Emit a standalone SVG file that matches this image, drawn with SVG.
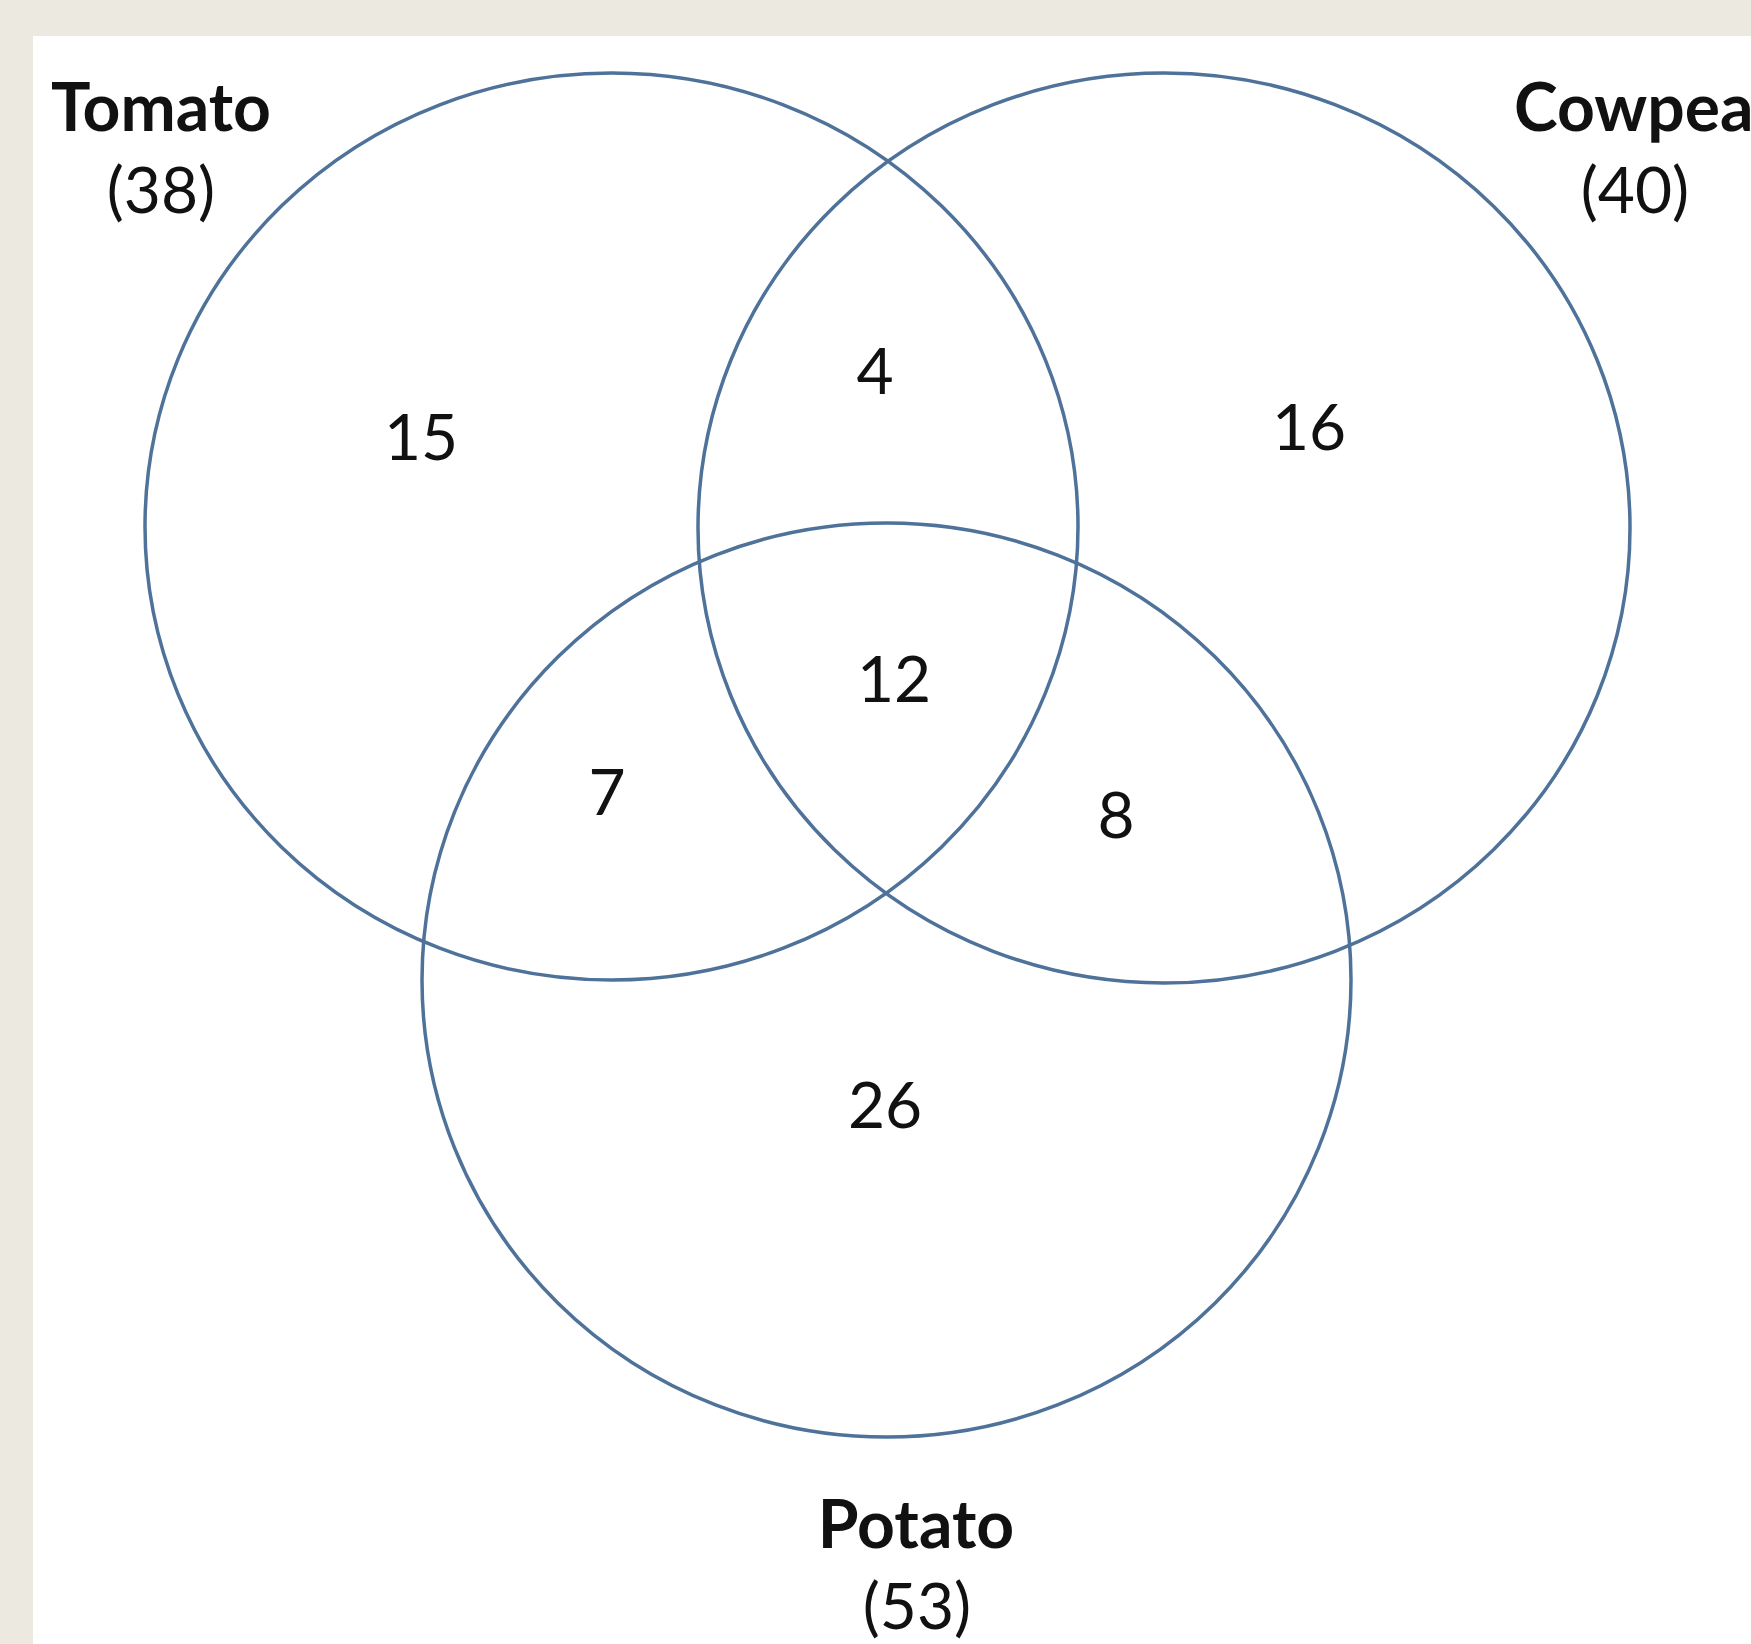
<svg xmlns="http://www.w3.org/2000/svg" width="1751" height="1644" viewBox="0 0 1751 1644">
  <style>
    .set { fill: none; stroke: #4E7299; stroke-width: 3.5; }
    .title { font-family: Lato, "Open Sans", sans-serif; font-weight: bold; font-size: 66px; fill: #111; }
    .count { font-family: Lato, "Open Sans", sans-serif; font-size: 64px; fill: #111; }
    .num { font-family: Lato, "Open Sans", sans-serif; font-size: 64px; fill: #111; text-anchor: middle; }
  </style>
  <rect x="0" y="0" width="1751" height="1644" fill="#ECEAE0"/>
  <rect x="33" y="36" width="1718" height="1608" fill="#FFFFFF"/>
  <g id="tomato">
    <ellipse class="set" cx="611.5" cy="526.5" rx="466.5" ry="453.5"/>
    <text class="title" x="161" y="131" text-anchor="middle">Tomato</text>
    <text class="count" x="161" y="213" text-anchor="middle">(38)</text>
  </g>
  <g id="cowpea">
    <ellipse class="set" cx="1164" cy="528" rx="466" ry="455"/>
    <text class="title" x="1514" y="131">Cowpea</text>
    <text class="count" x="1635" y="213" text-anchor="middle">(40)</text>
  </g>
  <g id="potato">
    <ellipse class="set" cx="886.5" cy="980" rx="464.5" ry="457"/>
    <text class="title" x="916" y="1548" text-anchor="middle">Potato</text>
    <text class="count" x="917" y="1629" text-anchor="middle">(53)</text>
  </g>
  <g id="regions">
    <text class="num" x="421" y="460">15</text>
    <text class="num" x="875" y="394">4</text>
    <text class="num" x="1309" y="450">16</text>
    <text class="num" x="894" y="702">12</text>
    <text class="num" x="607" y="815">7</text>
    <text class="num" x="1116" y="838">8</text>
    <text class="num" x="885" y="1128">26</text>
  </g>
  <g id="connectors"></g>
</svg>
